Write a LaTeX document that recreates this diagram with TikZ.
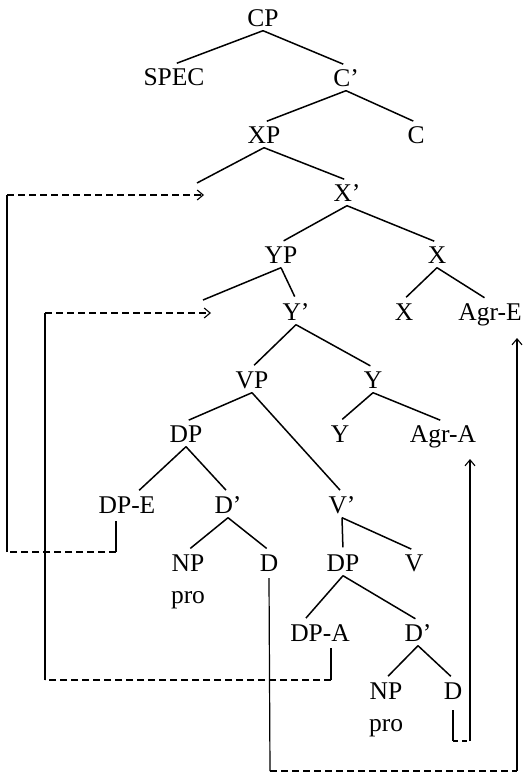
\documentclass[tikz,border=0pt]{standalone}
\usepackage{fontspec}
\setmainfont{Liberation Serif}
\usetikzlibrary{arrows.meta}
\begin{document}
\begin{tikzpicture}[x=1pt,y=-1pt,
  lbl/.style={inner xsep=1pt,inner ysep=4pt,text height=17pt,text depth=0pt,font=\fontsize{25.5}{30}\selectfont},
  plain/.style={inner sep=0pt,font=\fontsize{25.5}{30}\selectfont},
  edge/.style={line width=1.5pt,shorten >=3pt},
  mvs/.style={line width=1.2pt},
  mvd/.style={line width=1.2pt,dash pattern=on 7pt off 4pt},
  tip/.style={-{Straight Barb[length=6pt,width=10pt,line width=1.1pt]}}]
\useasboundingbox (0,0) rectangle (524,776);
% nodes
\node[lbl] (CP) at (263,18) {CP};
\node[lbl] (SPEC) at (174,77) {SPEC};
\node[lbl] (C1) at (346,78) {C'};
\node[lbl] (XP) at (264,135) {XP};
\node[lbl] (C) at (416,135) {C};
\coordinate (xe) at (197,183);
\node[lbl] (X1) at (347,193) {X'};
\node[lbl] (YP) at (281,255) {YP};
\node[lbl] (Xup) at (437,255) {X};
\coordinate (ye) at (203,300);
\node[lbl] (Y1) at (296,312) {Y'};
\node[lbl] (Xlo) at (404,312) {X};
\node[lbl] (AgrE) at (490,312) {Agr-E};
\node[lbl] (VP) at (252,380) {VP};
\node[lbl] (Yup) at (373,380) {Y};
\node[lbl] (DP) at (186,434) {DP};
\node[lbl] (Ylo) at (340,434) {Y};
\node[lbl] (AgrA) at (443,434) {Agr-A};
\node[lbl] (DPE) at (127,505) {DP-E};
\node[lbl] (D1) at (228,505) {D'};
\node[lbl] (V1) at (342,505) {V'};
\node[lbl] (NP) at (188,563) {NP};
\node[plain] (pro) at (188,600) {pro};
\node[lbl] (D) at (269,563) {D};
\node[lbl] (DP2) at (343,563) {DP};
\node[lbl] (V) at (414,563) {V};
\node[lbl] (DPA) at (320,633) {DP-A};
\node[lbl] (D2) at (418,633) {D'};
\node[lbl] (NP2) at (386,691) {NP};
\node[plain] (pro2) at (386,728) {pro};
\node[lbl] (D3) at (453,691) {D};
% tree edges
\draw[edge] (CP.south) -- (SPEC.north);
\draw[edge] (CP.south) -- (C1.north);
\draw[edge] (C1.south) -- (XP.north);
\draw[edge] (C1.south) -- (C.north);
\draw[edge,shorten >=0pt] (XP.south) -- (xe);
\draw[edge] (XP.south) -- (X1.north);
\draw[edge] (X1.south) -- (YP.north);
\draw[edge] (X1.south) -- (Xup.north);
\draw[edge,shorten >=0pt] (YP.south) -- (ye);
\draw[edge] (YP.south) -- (Y1.north);
\draw[edge] (Xup.south) -- (Xlo.north);
\draw[edge] (Xup.south) -- ([xshift=-3pt]AgrE.north);
\draw[edge] (Y1.south) -- (VP.north);
\draw[edge] (Y1.south) -- (Yup.north);
\draw[edge] (VP.south) -- (DP.north);
\draw[edge] (VP.south) -- (V1.north);
\draw[edge] (Yup.south) -- (Ylo.north);
\draw[edge] (Yup.south) -- (AgrA.north);
\draw[edge] (DP.south) -- ([xshift=10pt]DPE.north);
\draw[edge] (DP.south) -- (D1.north);
\draw[edge] (D1.south) -- (NP.north);
\draw[edge] (D1.south) -- (D.north);
\draw[edge] (V1.south) -- (DP2.north);
\draw[edge] (V1.south) -- (V.north);
\draw[edge] (DP2.south) -- ([xshift=-16pt]DPA.north);
\draw[edge] (DP2.south) -- (D2.north);
\draw[edge] (D2.south) -- (NP2.north);
\draw[edge] (D2.south) -- (D3.north);
% movement 1: DP-E
\coordinate (a1) at (116,521);
\coordinate (a2) at (116,552);
\coordinate (a3) at (7,552);
\coordinate (a4) at (7,195);
\coordinate (a5) at (204,195);
\draw[mvs] (a1) -- (a2);
\draw[mvd] (a2) -- (a3);
\draw[mvs] (a3) -- (a4);
\draw[mvd,tip] (a4) -- (a5);
% movement 2: DP-A
\coordinate (b1) at (331,648);
\coordinate (b2) at (331,680);
\coordinate (b3) at (45,680);
\coordinate (b4) at (45,313);
\coordinate (b5) at (211,313);
\draw[mvs] (b1) -- (b2);
\draw[mvd] (b2) -- (b3);
\draw[mvs] (b3) -- (b4);
\draw[mvd,tip] (b4) -- (b5);
% movement 3: D -> Agr-A
\coordinate (c1) at (453,710);
\coordinate (c2) at (453,741);
\coordinate (c3) at (470,741);
\coordinate (c4) at (470,459);
\draw[mvs] (c1) -- (c2);
\draw[mvd,dash pattern=on 5pt off 4pt] (c2) -- (c3);
\draw[mvs,tip] (c3) -- (c4);
% movement 4: D -> Agr-E
\coordinate (d1) at (269,578);
\coordinate (d2) at (270,771);
\coordinate (d3) at (517,771);
\coordinate (d4) at (517,338);
\draw[mvs] (d1) -- (d2);
\draw[mvd] (d2) -- (d3);
\draw[mvs,tip] (d3) -- (d4);
\end{tikzpicture}
\end{document}
